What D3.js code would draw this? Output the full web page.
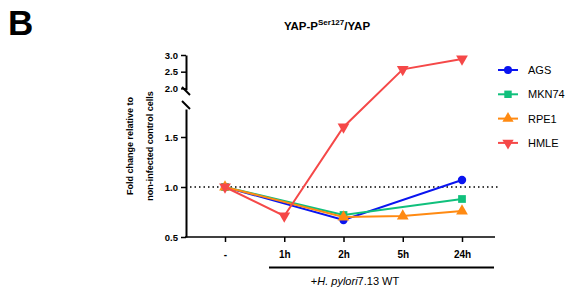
<!DOCTYPE html>
<head>
    <meta charset="utf-8">
    <script src="https://d3js.org/d3.v7.min.js"></script>
    <style>
        body { margin: 0; background: white; }
        text { font-family: "Liberation Sans", Arial, sans-serif; }
    </style>
</head>
<body>
<svg id="chart" width="568" height="295"></svg>
<script>
    // timepoints on the x axis
    const timepoints = ["-", "1h", "2h", "5h", "24h"];
    // null = no measurement at that time (line joins the neighbours)
    const agsValues = [1.0, null, 0.67, null, 1.07];
    const mkn74Values = [1.0, null, 0.72, null, 0.88];
    const rpe1Values = [1.0, null, 0.70, 0.71, 0.76];
    const hmleValues = [1.0, 0.71, 1.60, 2.57, 2.88];
    const seriesNames = ["AGS", "MKN74", "RPE1", "HMLE"];
    const lowerTicks = [0.5, 1.0, 1.5];
    const upperTicks = [2.0, 2.5, 3.0];

    const colors = ["#0a14f0", "#10c07c", "#ff8a12", "#f54848"];
    const symbols = [d3.symbolCircle, d3.symbolSquare, d3.symbolTriangle, d3.symbolTriangle];

    const svg = d3.select("#chart");

    const axisX = 186, axisBottom = 237;

    // broken y axis: two linear pieces
    const yLow = d3.scaleLinear().domain([0.5, 1.78]).range([237, 109]);
    const yHigh = d3.scaleLinear().domain([1.96, 3.0]).range([89.7, 55]);
    const y = d3.scaleLinear().domain([0.5, 1.78, 1.96, 3.0]).range([237, 109, 89.7, 55]);

    const x = d3.scalePoint().domain(timepoints).range([225, 462]);

    // title
    svg.append("text").attr("x", 8).attr("y", 35)
        .style("font-size", "35px").style("font-weight", "bold").text("B");
    const title = svg.append("text").attr("x", 327).attr("y", 30)
        .attr("text-anchor", "middle")
        .style("font-size", "11.5px").style("font-weight", "bold");
    title.append("tspan").text("YAP-P");
    title.append("tspan").attr("dy", -5).style("font-size", "8px").text("Ser127");
    title.append("tspan").attr("dy", 5).text("/YAP");

    // y axis label
    const yl = svg.append("text").attr("transform", "translate(0,146) rotate(-90)")
        .attr("text-anchor", "middle")
        .style("font-size", "9px").style("font-weight", "bold");
    yl.append("tspan").attr("x", 0).attr("y", 133).text("Fold change relative to");
    yl.append("tspan").attr("x", 0).attr("y", 153).text("non-infected control cells");

    // reference line at 1.0
    svg.append("line")
        .attr("x1", 190).attr("x2", 500)
        .attr("y1", y(1.0)).attr("y2", y(1.0))
        .attr("stroke", "black").attr("stroke-width", 1.5)
        .attr("stroke-dasharray", "1.5,3");

    function styleAxis(g) {
        g.selectAll("path").attr("stroke-width", 2);
        g.selectAll("line").attr("stroke-width", 1.5);
        g.selectAll("text").style("font-size", "9.5px").style("font-weight", "bold")
            .style("font-family", "Liberation Sans, Arial, sans-serif");
    }

    svg.append("g").attr("transform", "translate(" + axisX + ",0)")
        .call(d3.axisLeft(yLow).tickValues(lowerTicks).tickFormat(d3.format(".1f"))
            .tickSizeInner(5).tickSizeOuter(0).tickPadding(3))
        .call(styleAxis);
    svg.append("g").attr("transform", "translate(" + axisX + ",0)")
        .call(d3.axisLeft(yHigh).tickValues(upperTicks).tickFormat(d3.format(".1f"))
            .tickSizeInner(5).tickSizeOuter(0).tickPadding(3))
        .call(styleAxis);

    // break marks
    svg.append("line").attr("x1", 182).attr("y1", 87).attr("x2", 190).attr("y2", 95)
        .attr("stroke", "black").attr("stroke-width", 2);
    svg.append("line").attr("x1", 182).attr("y1", 101).attr("x2", 190).attr("y2", 109)
        .attr("stroke", "black").attr("stroke-width", 2);

    // x axis
    const xg = svg.append("g").attr("transform", "translate(0," + axisBottom + ")")
        .call(d3.axisBottom(x).tickSizeInner(5).tickSizeOuter(0).tickPadding(9));
    xg.select(".domain").remove();
    xg.append("line").attr("x1", axisX - 1).attr("x2", 495)
        .attr("stroke", "black").attr("stroke-width", 2);
    xg.call(styleAxis);
    xg.selectAll("text").style("font-size", "10px");

    // bracket for infected group
    svg.append("line").attr("x1", 269).attr("x2", 494).attr("y1", 267.5).attr("y2", 267.5)
        .attr("stroke", "black").attr("stroke-width", 2);
    const inf = svg.append("text").attr("x", 355).attr("y", 285)
        .attr("text-anchor", "middle").style("font-size", "11px");
    inf.append("tspan").text("+");
    inf.append("tspan").style("font-style", "italic").text("H. pylori");
    inf.append("tspan").text("7.13 WT");

    // series
    const allValues = [agsValues, mkn74Values, rpe1Values, hmleValues];
    const line = d3.line().x(d => x(d.t)).y(d => y(d.v));

    allValues.forEach(function (vals, i) {
        const pts = timepoints.map((t, j) => ({t: t, v: vals[j]})).filter(d => d.v !== null);
        svg.append("path").datum(pts)
            .attr("d", line)
            .attr("fill", "none")
            .attr("stroke", colors[i])
            .attr("stroke-width", 2);
        svg.selectAll(".m" + i).data(pts).enter()
            .append("path")
            .attr("class", "m" + i)
            .attr("d", d3.symbol().type(symbols[i]).size(i === 0 ? 55 : 60))
            .attr("transform", d => "translate(" + x(d.t) + "," + y(d.v) + ")" + (i === 3 ? " rotate(180)" : ""))
            .attr("fill", colors[i]);
    });

    // legend
    const legend = svg.append("g");
    seriesNames.forEach(function (name, i) {
        const ly = 70 + i * 24.3;
        legend.append("line").attr("x1", 498).attr("x2", 518).attr("y1", ly).attr("y2", ly)
            .attr("stroke", colors[i]).attr("stroke-width", 2);
        legend.append("path")
            .attr("d", d3.symbol().type(symbols[i]).size(i === 0 ? 50 : 55))
            .attr("transform", "translate(508," + ly + ")" + (i === 3 ? " rotate(180)" : ""))
            .attr("fill", colors[i]);
        legend.append("text").attr("x", 528).attr("y", ly + 4)
            .style("font-size", "11px").text(name);
    });
</script>
</body>
